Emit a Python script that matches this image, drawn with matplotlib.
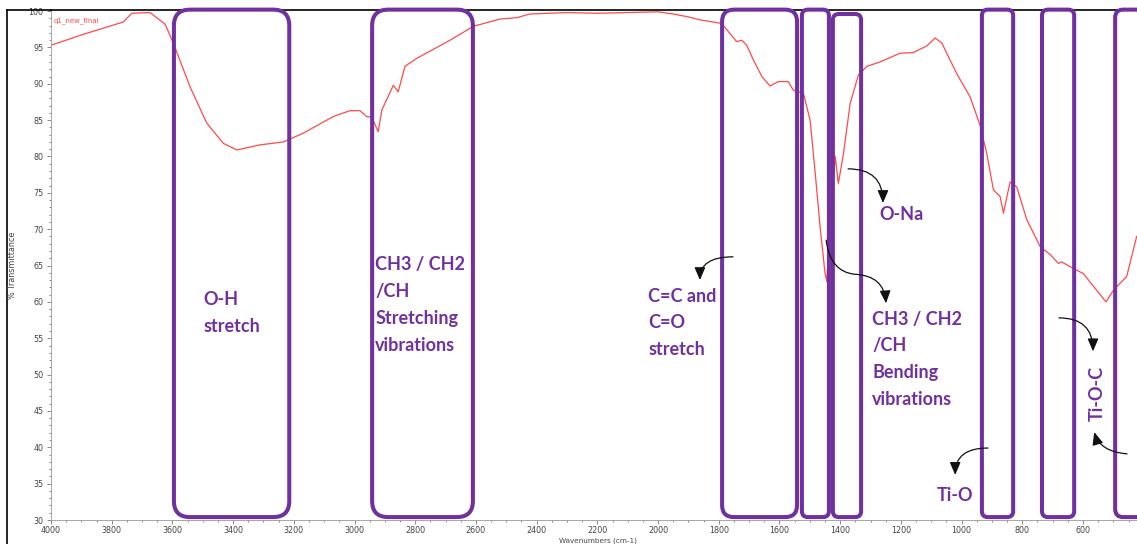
import matplotlib
matplotlib.use("Agg")
import matplotlib.pyplot as plt
from matplotlib.patches import FancyBboxPatch, FancyArrowPatch
from matplotlib.path import Path
from matplotlib.lines import Line2D
from matplotlib.transforms import IdentityTransform
from matplotlib.ticker import MultipleLocator

# ---- FTIR spectrum of q1_new_final ----
wavenumber = [4000, 3894, 3762, 3734, 3674, 3624, 3597, 3542, 3487, 3432, 3388,
              3311, 3235, 3169, 3070, 3015, 2982, 2960, 2943, 2922, 2910, 2872,
              2856, 2834, 2795, 2685, 2609, 2521, 2465, 2422, 2300, 2200, 2100,
              2000, 1950, 1900, 1862, 1790, 1763, 1741, 1724, 1708, 1686, 1658,
              1631, 1604, 1571, 1554, 1521, 1499, 1483, 1466, 1450, 1444, 1432,
              1416, 1406, 1389, 1367, 1340, 1312, 1269, 1203, 1159, 1115, 1087,
              1065, 1016, 972, 939, 917, 895, 873, 862, 853, 840, 818, 785, 741,
              708, 681, 670, 632, 599, 555, 524, 500, 456, 423]
transmittance = [95.3, 96.8, 98.5, 99.7, 99.8, 98.2, 95.6, 89.6, 84.6, 81.8, 80.9,
                 81.6, 82.0, 83.2, 85.5, 86.3, 86.3, 85.5, 85.4, 83.4, 86.4, 89.8,
                 88.9, 92.4, 93.5, 96.0, 97.9, 98.9, 99.1, 99.6, 99.8, 99.7, 99.8,
                 99.9, 99.6, 99.2, 98.8, 98.3, 96.9, 95.8, 96.0, 95.3, 93.3, 91.0,
                 89.7, 90.3, 90.3, 89.1, 88.7, 85.0, 78.1, 70.3, 64.0, 62.8, 72.0,
                 80.0, 76.3, 80.4, 87.3, 91.2, 92.4, 93.0, 94.2, 94.3, 95.2, 96.3,
                 95.6, 91.4, 88.2, 84.3, 80.4, 75.4, 74.5, 72.2, 74.0, 76.5, 75.8,
                 71.3, 67.6, 66.5, 65.3, 65.5, 64.6, 63.9, 61.6, 60.0, 61.6, 63.5,
                 69.0]

# Highlighted absorption regions (wavenumber from, to, top %T, corner radius px)
region_from = [3595, 2942, 1789, 1526, 1424, 933, 735, 494]
region_to = [3215, 2610, 1542, 1437, 1331, 830, 629, 380]
region_top = [100.2, 100.2, 100.2, 100.2, 99.6, 100.2, 100.2, 100.2]
region_radius = [16, 16, 12, 6, 6, 6, 6, 8]
region_bottom = 30.4

# Band assignments: text, (wavenumber, %T) anchor, rotation
label_text = ["O-H\nstretch",
              "CH3 / CH2\n/CH\nStretching\nvibrations",
              "C=C and\nC=O\nstretch",
              "O-Na",
              "CH3 / CH2\n/CH\nBending\nvibrations",
              "Ti-O",
              "Ti-O-C"]
label_wn = [3499, 2932, 2033, 1272, 1295, 1081, 554]
label_t = [58.5, 59.6, 57.1, 72.0, 52.1, 33.4, 47.4]
label_rot = [0, 0, 0, 0, 0, 0, 90]

# Pointer arrows as Bezier control points in (wavenumber, %T)
arrow_paths = [
    [(1753, 66.2), (1862, 66.2), (1862, 63.0)],
    [(1374, 78.3), (1259, 78.3), (1259, 73.6)],
    [(1446, 68.5), (1433, 64.1), (1351, 63.8), (1255, 63.6), (1249, 59.8)],
    [(913, 39.9), (1021, 39.9), (1021, 36.2)],
    [(679, 57.8), (567, 57.8), (567, 53.2)],
    [(455, 39.1), (544, 39.4), (563, 42.1)],
]

PURPLE = "#7030A0"
W, H = 1137, 544

fig = plt.figure(figsize=(W / 100, H / 100), dpi=100)
ax = fig.add_axes([51 / W, (H - 520) / H, (W - 51) / W, 510 / H])

ax.plot(wavenumber, transmittance, color="#ff4a4a", lw=0.9)
ax.set_xlim(4000, 422)
ax.set_ylim(30, 100.15)

ax.xaxis.set_major_locator(MultipleLocator(200))
ax.xaxis.set_minor_locator(MultipleLocator(50))
ax.yaxis.set_major_locator(MultipleLocator(5))
ax.yaxis.set_minor_locator(MultipleLocator(1))
ax.tick_params(which="both", labelsize=5.8, labelcolor="#444444", color="#777777",
               width=0.6, direction="out")
ax.tick_params(which="major", length=3, pad=2.5)
ax.tick_params(axis="x", which="major", pad=1.2)
ax.tick_params(which="minor", length=1.6)

ax.spines["right"].set_visible(False)
ax.spines["left"].set_color("#999999")
ax.spines["bottom"].set_color("#999999")
ax.spines["left"].set_linewidth(0.6)
ax.spines["bottom"].set_linewidth(0.6)
ax.spines["top"].set_color("black")
ax.spines["top"].set_linewidth(1.2)

# axis titles
fig.text((51 + 1144) / 2 / W, 0.5 / H, "Wavenumbers (cm-1)", fontsize=5.2,
         color="#444444", ha="center", va="bottom")
fig.text(13 / W, 1 - 265 / H, "% Transmittance", rotation=90, fontsize=5.8,
         color="#444444", ha="center", va="center")
ax.text(0.002, 0.985, "q1_new_final", transform=ax.transAxes, fontsize=5,
        color="#ff4a4a", ha="left", va="top")

# outer frame lines
fig.add_artist(Line2D([7 / W, 7 / W], [0, 1 - 10 / H], color="black", lw=1.2,
                      transform=fig.transFigure))
fig.add_artist(Line2D([7 / W, 51 / W], [1 - 10 / H, 1 - 10 / H], color="black",
                      lw=1.2, transform=fig.transFigure))

fig.canvas.draw()
to_px = ax.transData.transform

# rounded highlight boxes drawn in pixel space so corners stay circular
for w0, w1, top, r in zip(region_from, region_to, region_top, region_radius):
    x0, y0 = to_px((w0, region_bottom))
    x1, y1 = to_px((w1, top))
    box = FancyBboxPatch((x0, y0), x1 - x0, y1 - y0,
                         boxstyle=f"round,pad=0,rounding_size={r}",
                         fill=False, ec=PURPLE, lw=2.9,
                         transform=IdentityTransform(), clip_on=False)
    fig.add_artist(box)

for txt, wn, t, rot in zip(label_text, label_wn, label_t, label_rot):
    ax.text(wn, t, txt, fontsize=13, fontweight="bold", family="Lato",
            color=PURPLE, ha="center" if rot else "left", va="center",
            rotation=rot, linespacing=1.7, clip_on=False)

for pts in arrow_paths:
    px = [tuple(to_px(p)) for p in pts]
    if len(px) == 3:
        codes = [Path.MOVETO, Path.CURVE3, Path.CURVE3]
    else:
        codes = [Path.MOVETO, Path.CURVE3, Path.CURVE3, Path.CURVE3, Path.CURVE3]
    arr = FancyArrowPatch(path=Path(px, codes),
                          arrowstyle="-|>,head_length=0.7,head_width=0.3",
                          mutation_scale=11, color="#111111", lw=0.9,
                          transform=IdentityTransform())
    fig.add_artist(arr)

fig.savefig("out.png", dpi=100)
